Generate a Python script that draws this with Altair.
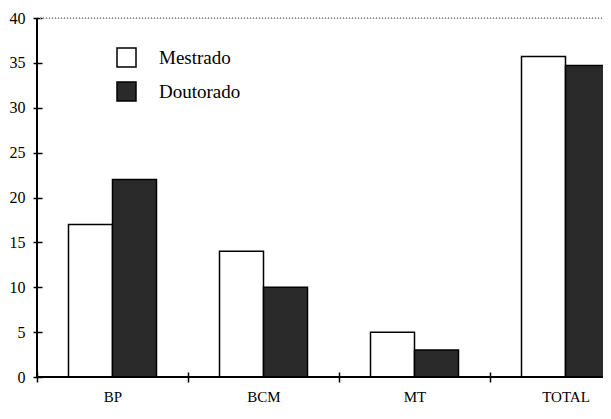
import altair as alt
import pandas as pd

categories = ["BP", "BCM", "MT", "TOTAL"]
mestrado = [17, 14, 5, 35.7]
doutorado = [22, 10, 3, 34.7]
series = ["Mestrado", "Doutorado"]
y_ticks = [0, 5, 10, 15, 20, 25, 30, 35, 40]

rows = []
for c, m, d in zip(categories, mestrado, doutorado):
    rows.append({"cat": c, "grupo": "Mestrado", "valor": m})
    rows.append({"cat": c, "grupo": "Doutorado", "valor": d})
df = pd.DataFrame(rows)

FONT = "Liberation Serif"
W, H = 604, 359

bars = alt.Chart(df).mark_bar(stroke="black", strokeWidth=1.5).encode(
    x=alt.X("cat:N", sort=categories, title=None,
            scale=alt.Scale(paddingInner=0, paddingOuter=0),
            axis=alt.Axis(labelAngle=0, domain=False, tickBand="extent")),
    xOffset=alt.XOffset("grupo:N", sort=series,
                        scale=alt.Scale(paddingInner=0, paddingOuter=0.716)),
    y=alt.Y("valor:Q", scale=alt.Scale(domain=[0, 40], nice=False), title=None,
            axis=alt.Axis(values=y_ticks, domain=False, grid=False)),
    color=alt.Color("grupo:N", sort=series,
                    scale=alt.Scale(domain=series, range=["white", "#2a2a2a"]),
                    legend=alt.Legend(title=None, orient="none", legendX=79, legendY=29,
                                      symbolType="square", symbolSize=361,
                                      symbolStrokeColor="black", symbolStrokeWidth=1.5,
                                      labelFont=FONT, labelFontSize=19, labelColor="black",
                                      labelOffset=22, rowPadding=9, padding=0)),
)

base_rule = alt.Chart(df).mark_rule(color="black", strokeWidth=1.5).encode(
    y=alt.datum(0)
)
top_rule = alt.Chart(df).mark_rule(color="#999999", strokeWidth=1, strokeDash=[1, 2]).encode(
    y=alt.datum(40)
)
yaxis_rule = alt.Chart(df).mark_rule(color="black", strokeWidth=1.5).encode(
    x=alt.value(0), y=alt.datum(0), y2=alt.datum(40)
)

chart = alt.layer(bars, top_rule, base_rule, yaxis_rule).properties(
    width=W, height=H,
    autosize=alt.AutoSizeParams(type="none"),
    padding={"left": 29, "top": 10, "right": -38, "bottom": 30},
).configure_view(stroke=None).configure(background="white").configure_axis(
    labelFont=FONT, labelColor="black", tickColor="black", tickWidth=1.5,
    domain=False, grid=False
).configure_axisX(
    tickSize=10, offset=-5, labelFontSize=15, labelPadding=7
).configure_axisY(
    tickSize=9, offset=-5, labelFontSize=16, labelPadding=8
)

chart.save("out.html", embed_options={"renderer": "svg", "actions": False})
